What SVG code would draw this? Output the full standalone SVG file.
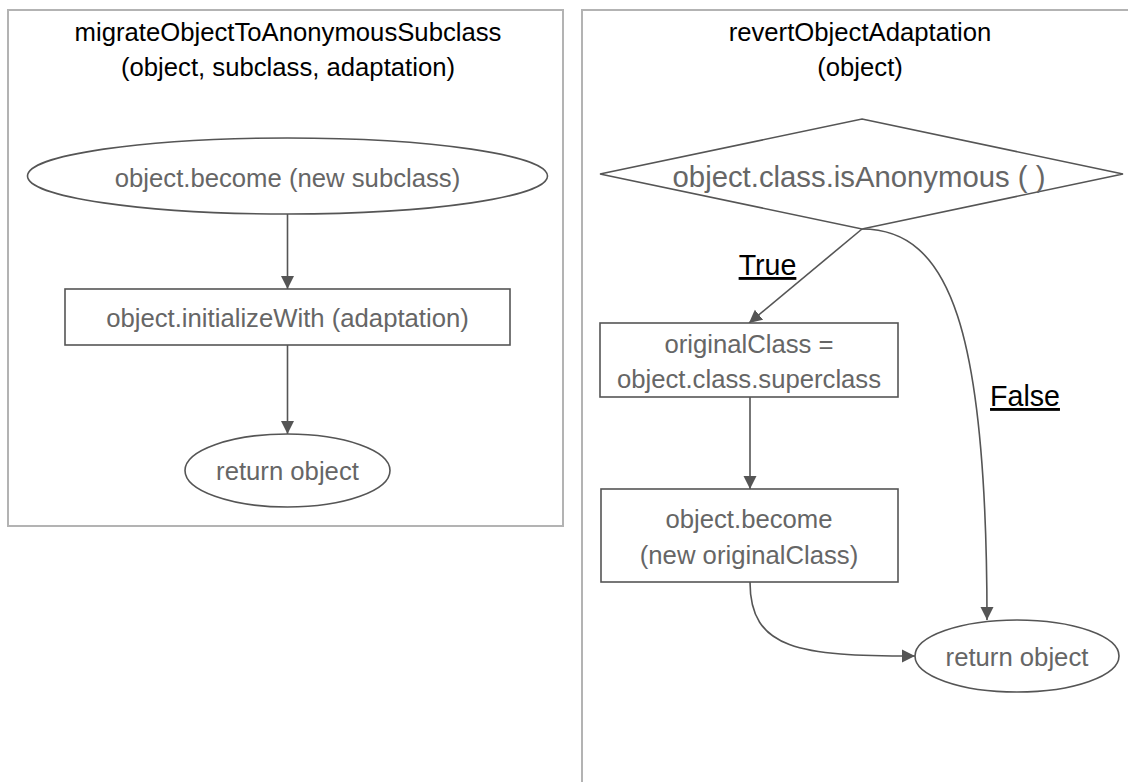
<svg xmlns="http://www.w3.org/2000/svg" width="1128" height="782" viewBox="0 0 1128 782">
<defs>
<style>
.panel{fill:#fff;stroke:#b3b3b3;stroke-width:2}
.node{fill:#fff;stroke:#555;stroke-width:1.6}
.ntext{font-family:"Liberation Sans",Arial,sans-serif;font-size:25.7px;fill:#666;text-anchor:middle;dominant-baseline:central}
.title{font-family:"Liberation Sans",Arial,sans-serif;font-size:25.7px;fill:#000;text-anchor:middle}
.lbl{font-family:"Liberation Sans",Arial,sans-serif;font-size:28.6px;fill:#000;text-anchor:middle;text-decoration:underline}
.edge{fill:none;stroke:#555;stroke-width:1.6}
</style>
<marker id="arr" markerUnits="userSpaceOnUse" markerWidth="14" markerHeight="14" refX="13" refY="7" orient="auto">
<path d="M0,0.5 L13,7 L0,13.5 z" fill="#555"/>
</marker>
</defs>
<rect width="1128" height="782" fill="#fff"/>

<g id="panel-left">
<rect class="panel" x="8" y="10" width="555" height="516"/>
<text class="title" x="288" y="41">migrateObjectToAnonymousSubclass</text>
<text class="title" x="288" y="76">(object, subclass, adaptation)</text>
</g>

<g id="panel-right">
<rect class="panel" x="582" y="10" width="570" height="800"/>
<text class="title" x="860" y="41">revertObjectAdaptation</text>
<text class="title" x="860" y="76">(object)</text>
</g>

<g id="connectors">
<path class="edge" d="M287.5,214 L287.5,289" marker-end="url(#arr)"/>
<path class="edge" d="M287.5,345 L287.5,434" marker-end="url(#arr)"/>
<path class="edge" d="M862,229 L749,323" marker-end="url(#arr)"/>
<path class="edge" d="M750,397 L750,489" marker-end="url(#arr)"/>
<path class="edge" d="M862,229 C950,229 987,330 987,620" marker-end="url(#arr)"/>
<path class="edge" d="M750,582 C750,650 800,656 915,656" marker-end="url(#arr)"/>
<text class="lbl" x="767.5" y="275">True</text>
<text class="lbl" x="1025" y="406">False</text>
</g>

<g id="n-become-subclass">
<ellipse class="node" cx="287.5" cy="176" rx="260" ry="38"/>
<text class="ntext" x="287.5" y="178">object.become (new subclass)</text>
</g>

<g id="n-initialize">
<rect class="node" x="65" y="289" width="445" height="56"/>
<text class="ntext" x="287.5" y="318">object.initializeWith (adaptation)</text>
</g>

<g id="n-return-left">
<ellipse class="node" cx="287.5" cy="470.5" rx="102.5" ry="36.5"/>
<text class="ntext" x="287.5" y="471">return object</text>
</g>

<g id="n-is-anonymous">
<polygon class="node" points="862,119 1123,174 862,229 600,174"/>
<text class="ntext" x="859" y="176" style="font-size:29.3px">object.class.isAnonymous ( )</text>
</g>

<g id="n-original-class">
<rect class="node" x="600" y="323" width="298" height="74"/>
<text class="ntext" x="749" y="344">originalClass =</text>
<text class="ntext" x="749" y="379">object.class.superclass</text>
</g>

<g id="n-become-original">
<rect class="node" x="601" y="489" width="297" height="93"/>
<text class="ntext" x="749" y="519">object.become</text>
<text class="ntext" x="749" y="555">(new originalClass)</text>
</g>

<g id="n-return-right">
<ellipse class="node" cx="1017" cy="656" rx="102" ry="36"/>
<text class="ntext" x="1017" y="657">return object</text>
</g>
</svg>
